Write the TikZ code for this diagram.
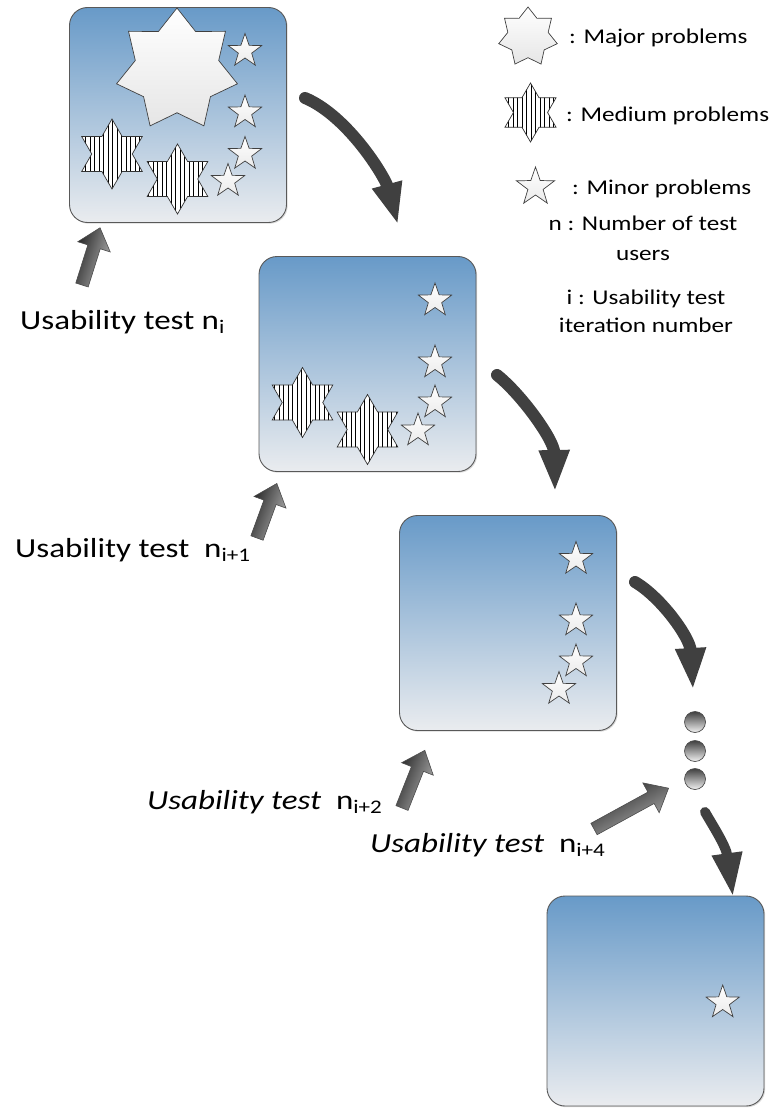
\documentclass[tikz,border=0pt]{standalone}
\usepackage{fontspec}
\setmainfont{Carlito}[FakeStretch=1.2]
\usetikzlibrary{shapes.geometric,patterns.meta,arrows.meta,shadows}
\definecolor{boxtop}{RGB}{104,154,200}
\definecolor{boxbot}{RGB}{234,236,239}
\definecolor{arrowgray}{RGB}{64,64,64}
\tikzset{
  panel/.style={rectangle, rounded corners=18pt, draw=black!65, line width=0.9pt,
    top color=boxtop, bottom color=boxbot, minimum width=217pt, minimum height=215pt,
    inner sep=0pt, drop shadow={shadow xshift=1.2pt, shadow yshift=-1.2pt, opacity=0.3}},
  majorstar/.style={star, star points=7, star point ratio=1.45, draw=black!75, line width=0.7pt,
    top color=white, bottom color=black!10, inner sep=0pt},
  mediumstar/.style={star, star points=6, star point ratio=1.73, draw=black!80, line width=0.7pt,
    preaction={fill=white}, pattern={Lines[angle=90,distance=4.5pt,line width=0.6pt]}, inner sep=0pt},
  minorstar/.style={star, star points=5, star point ratio=2.5, draw=black!75, line width=0.7pt,
    top color=white, bottom color=black!8, inner sep=0pt},
  flow/.style={draw=arrowgray, line width=12pt, line cap=round, -{Triangle[length=42pt,width=28pt]}},
  ball/.style={circle, draw=black!70, line width=0.7pt, top color=black!75, bottom color=black!5,
    minimum size=21pt, inner sep=0pt},
  utlabel/.style={font=\fontsize{27.5}{33}\selectfont, inner sep=0pt},
  legendtext/.style={font=\fontsize{21}{28}\selectfont, inner sep=0pt},
  pics/uparrow/.style 2 args={code={
    \shadedraw[draw=black!70, line width=0.6pt, top color=black!85, bottom color=black!30, shading angle=#2]
      (0pt,-6.5pt) -- (#1-20pt,-6.5pt) -- (#1-20pt,-17pt) -- (#1,0pt) -- (#1-20pt,17pt)
      -- (#1-20pt,6.5pt) -- (0pt,6.5pt) -- cycle;
  }}
}
\begin{document}
\begin{tikzpicture}[x=1pt,y=-1pt]
\useasboundingbox (0,0) rectangle (772,1110);

% panels
\node[panel] (box1) at (178,115) {};
\node[panel] (box2) at (367.5,364) {};
\node[panel] (box3) at (508,623) {};
\node[panel, minimum height=210pt] (box4) at (655.5,1001) {};

% box 1 content
\node[majorstar, minimum size=124pt] (b1major) at (177,70) {};
\node[minorstar, minimum size=35pt] (b1m1) at (245,51) {};
\node[minorstar, minimum size=35pt] (b1m2) at (245,112.5) {};
\node[minorstar, minimum size=35pt] (b1m3) at (245,154) {};
\node[mediumstar, minimum size=70pt] (b1d1) at (112,154) {};
\node[mediumstar, minimum size=70pt] (b1d2) at (177.5,179) {};
\node[minorstar, minimum size=35pt] (b1m4) at (228,181) {};

% box 2 content
\node[minorstar, minimum size=35pt] (b2m1) at (435,300.5) {};
\node[minorstar, minimum size=35pt] (b2m2) at (435,362.5) {};
\node[minorstar, minimum size=35pt] (b2m3) at (435,402.5) {};
\node[mediumstar, minimum size=70pt] (b2d1) at (302.5,402.5) {};
\node[mediumstar, minimum size=70pt] (b2d2) at (367.5,429.5) {};
\node[minorstar, minimum size=35pt] (b2m4) at (418,430.5) {};

% box 3 content
\node[minorstar, minimum size=35pt] (b3m1) at (576,559) {};
\node[minorstar, minimum size=35pt] (b3m2) at (576,620.5) {};
\node[minorstar, minimum size=35pt] (b3m3) at (576,661.5) {};
\node[minorstar, minimum size=35pt] (b3m4) at (559,689) {};

% box 4 content
\node[minorstar, minimum size=35pt] (b4m1) at (722.7,1002.5) {};

% legend
\node[majorstar, minimum size=60pt] (legmajor) at (528,37) {};
\node[legendtext, anchor=base west] (legmajortxt) at (569,44) {: Major problems};
\node[mediumstar, minimum size=59pt] (legmedium) at (530.5,112.5) {};
\node[legendtext, anchor=base west] (legmediumtxt) at (566,122) {: Medium problems};
\node[minorstar, minimum size=40pt] (legminor) at (535.5,187) {};
\node[legendtext, anchor=base west] (legminortxt) at (572,194) {: Minor problems};
\node[legendtext, align=center, font=\fontsize{21}{30}\selectfont] (legn) at (643,238) {n : Number of test\\users};
\node[legendtext, align=center] (legi) at (646,311.5) {i : Usability test\\iteration number};

% labels
\node[utlabel, anchor=base west] (ut1) at (20,329) {Usability test n\textsubscript{i}};
\node[utlabel, anchor=base west] (ut2) at (15,557) {Usability test\ \ n\textsubscript{i+1}};
\node[utlabel, anchor=base west] (ut3) at (147,809) {\textit{Usability test}\ \ n\textsubscript{i+2}};
\node[utlabel, anchor=base west] (ut4) at (370,852) {\textit{Usability test}\ \ n\textsubscript{i+4}};

% block arrows
\pic[rotate=72.5] at (82,285) {uparrow={60pt}{72.5}};
\pic[rotate=70] at (257,538) {uparrow={58pt}{70}};
\pic[rotate=68.4] at (402,808) {uparrow={62pt}{68.4}};
\pic[rotate=28.7] at (594,829) {uparrow={85pt}{28.7}};

% dots
\node[ball] (dot1) at (695,722) {};
\node[ball] (dot2) at (695,751) {};
\node[ball] (dot3) at (695,779) {};

% curved arrows
\coordinate (c1s) at (305,98);  \coordinate (c1e) at (398,225);
\coordinate (c2s) at (497,375); \coordinate (c2e) at (555,492);
\coordinate (c3s) at (635,582); \coordinate (c3e) at (693,690);
\coordinate (c4s) at (705,812); \coordinate (c4e) at (733,897);
\draw[flow] (c1s) .. controls (348,116) and (385,177) .. (c1e);
\draw[flow] (c2s) .. controls (522,395) and (554,440) .. (c2e);
\draw[flow] (c3s) .. controls (662,598) and (690,638) .. (c3e);
\draw[flow, line width=10pt, -{Triangle[length=44pt,width=28pt]}] (c4s) .. controls (713,826) and (726,846) .. (c4e);
\end{tikzpicture}
\end{document}
